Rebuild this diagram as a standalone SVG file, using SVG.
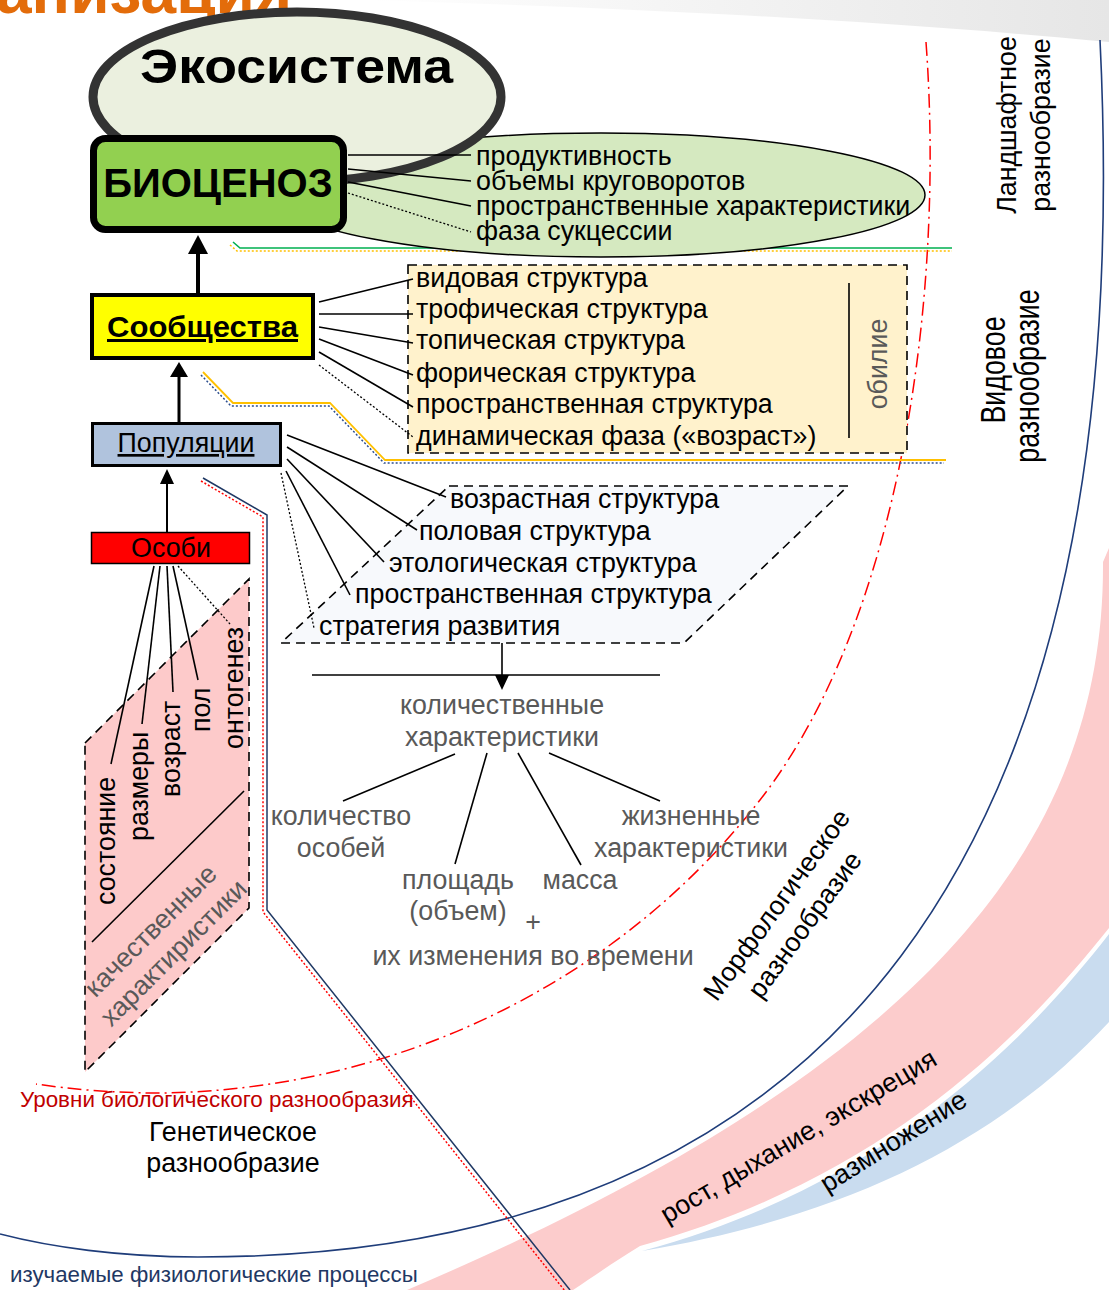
<svg xmlns="http://www.w3.org/2000/svg" width="1109" height="1290" viewBox="0 0 1109 1290">
<defs>
<style>
text{font-family:"Liberation Sans",Arial,sans-serif;}
.t{font-size:26.8px;fill:#000}
.g{font-size:26.8px;fill:#595959}
.ln{stroke:#000;stroke-width:1.6;fill:none}
.dot{stroke:#000;stroke-width:1.3;stroke-dasharray:2,2;fill:none}
.dash{stroke:#000;stroke-width:1.6;stroke-dasharray:9,6}
.mid{text-anchor:middle}
</style>
<linearGradient id="sw" x1="0" y1="0" x2="1" y2="0">
<stop offset="0" stop-color="#ffffff"/>
<stop offset="1" stop-color="#e6e6e6"/>
</linearGradient>
<marker id="ahBig" markerUnits="userSpaceOnUse" markerWidth="20" markerHeight="20" refX="0" refY="10" orient="auto"><path d="M0,0 L19,10 L0,20 Z" fill="#000"/></marker>
<marker id="ahMed" markerUnits="userSpaceOnUse" markerWidth="16" markerHeight="18" refX="0" refY="9" orient="auto"><path d="M0,0 L15,9 L0,18 Z" fill="#000"/></marker>
<marker id="ahSm" markerUnits="userSpaceOnUse" markerWidth="16" markerHeight="14" refX="0" refY="7" orient="auto"><path d="M0,0 L15,7 L0,14 Z" fill="#000"/></marker>
</defs>
<rect width="1109" height="1290" fill="#fff"/>
<path d="M360,0 L1109,0 L1109,42 C900,22 650,8 360,0 Z" fill="url(#sw)"/>
<text x="-4" y="13" font-size="64" font-weight="bold" fill="#e36c0a">анизация</text>

<g id="background-levels">
<path d="M1109,548 L1103,562 C1105,860 900,1080 407,1290 L573,1290 C600,1272 620,1258 640,1246 C880,1180 1020,1040 1109,928 Z" fill="#fccccc"/>
<path d="M1109,934 C1022,1046 882,1186 642,1251 C850,1216 1000,1140 1109,1022 Z" fill="#c9dcef"/>
<path d="M1100,40 C1140,860 830,1257 198,1257 C120,1257 50,1247 0,1234" fill="none" stroke="#1f3d7a" stroke-width="1.6"/>
<path d="M926,42 C945,300 900,620 760,800 C620,980 400,1090 160,1093 C110,1093 70,1089 36,1084" fill="none" stroke="#ff0000" stroke-width="1.5" stroke-dasharray="14,5,2,5"/>
<text transform="translate(1016,125) rotate(-90)" class="t mid">Ландшафтное</text>
<text transform="translate(1050,125) rotate(-90)" class="t mid">разнообразие</text>
<text transform="translate(1005,370) rotate(-90) scale(1,1.3)" class="t mid">Видовое</text>
<text transform="translate(1039,376) rotate(-90) scale(1,1.3)" class="t mid">разнообразие</text>
<text transform="translate(784,910) rotate(-54)" class="t mid">Морфологическое</text>
<text transform="translate(812,930) rotate(-54)" class="t mid">разнообразие</text>
<text transform="translate(803,1144) rotate(-30.5)" class="t mid">рост, дыхание, экскреция</text>
<text transform="translate(898,1149) rotate(-32)" class="t mid">размножение</text>
<text x="20" y="1107" font-size="22.4" fill="#c00000">Уровни биологического разнообразия</text>
<text x="233" y="1141" class="t mid" font-size="26.2">Генетическое</text>
<text x="233" y="1172" class="t mid" font-size="26.2">разнообразие</text>
<text x="10" y="1282" font-size="22.3" fill="#1f3864">изучаемые физиологические процессы</text>
</g>

<g id="boundaries">
<path d="M233,242 L240,248 L952,248" fill="none" stroke="#00b050" stroke-width="1.6"/>
<path d="M230,245 L237,251 L952,251" fill="none" stroke="#ffc000" stroke-width="1.5" stroke-dasharray="2,2"/>
<path d="M203,372 L233,403 L330,403 L385,460 L946,460" fill="none" stroke="#ffc000" stroke-width="1.8"/>
<path d="M201,375 L231,406 L329,406 L384,463 L944,463" fill="none" stroke="#2e4f8f" stroke-width="1.5" stroke-dasharray="2,2"/>
<path d="M203,478 L267,515 L267,910 L570,1290" fill="none" stroke="#1f3864" stroke-width="1.5"/>
<path d="M201,481 L263,517 L263,912 L565,1291" fill="none" stroke="#ff0000" stroke-width="1.5" stroke-dasharray="2,2"/>
</g>

<g id="biocenosis-properties">
<ellipse cx="601" cy="195" rx="324" ry="62" fill="#d5e9c0" stroke="#000" stroke-width="1.5"/>
<text x="476" y="165" class="t">продуктивность</text>
<text x="476" y="190" class="t">объемы круговоротов</text>
<text x="476" y="215" class="t">пространственные характеристики</text>
<text x="476" y="240" class="t">фаза сукцессии</text>
</g>

<g id="ecosystem">
<ellipse cx="297" cy="97" rx="204" ry="85" fill="#ebf0df" stroke="#333" stroke-width="9"/>
<text x="140" y="83" font-size="48" font-weight="bold" fill="#000" textLength="313" lengthAdjust="spacingAndGlyphs">Экосистема</text>
</g>

<g id="community-structures">
<rect x="408" y="265" width="499" height="188" fill="#fff2cc" class="dash"/>
<text x="416" y="287" class="t">видовая структура</text>
<text x="416" y="318" class="t">трофическая структура</text>
<text x="416" y="349" class="t">топическая структура</text>
<text x="416" y="382" class="t">форическая структура</text>
<text x="416" y="413" class="t">пространственная структура</text>
<text x="416" y="445" class="t">динамическая фаза («возраст»)</text>
<line x1="849" y1="283" x2="849" y2="438" class="ln"/>
<text transform="translate(887,364) rotate(-90)" class="g mid">обилие</text>
</g>

<g id="population-structures">
<polygon points="449,486 848,486 684,643 281,643" fill="#f7f9fc" class="dash"/>
<text x="450" y="508" class="t">возрастная структура</text>
<text x="419" y="540" class="t">половая структура</text>
<text x="389" y="572" class="t">этологическая структура</text>
<text x="355" y="603" class="t">пространственная структура</text>
<text x="319" y="635" class="t">стратегия развития</text>
</g>

<g id="individual-features">
<polygon points="85,743 249,579 249,908 85,1072" fill="#fdcaca" class="dash"/>
<line x1="92" y1="942" x2="244" y2="791" class="ln"/>
<text transform="translate(115,905) rotate(-90)" class="t">состояние</text>
<text transform="translate(148,841) rotate(-90)" class="t">размеры</text>
<text transform="translate(180,797) rotate(-90)" class="t">возраст</text>
<text transform="translate(210,732) rotate(-90)" class="t">пол</text>
<text transform="translate(243,749) rotate(-90)" class="t">онтогенез</text>
<text transform="translate(157,937) rotate(-45)" class="g mid">качественные</text>
<text transform="translate(180,959) rotate(-45)" class="g mid">характиристики</text>
</g>

<g id="quantitative">
<text x="502" y="714" class="g mid">количественные</text>
<text x="502" y="746" class="g mid">характеристики</text>
<text x="341" y="825" class="g mid">количество</text>
<text x="341" y="857" class="g mid">особей</text>
<text x="458" y="889" class="g mid">площадь</text>
<text x="458" y="920" class="g mid">(объем)</text>
<text x="580" y="889" class="g mid">масса</text>
<text x="691" y="825" class="g mid">жизненные</text>
<text x="691" y="857" class="g mid">характеристики</text>
<text x="533" y="931" class="g mid">+</text>
<text x="533" y="965" class="g mid">их изменения во времени</text>
</g>

<g id="connectors">
<line x1="348" y1="155" x2="471" y2="155" class="ln"/>
<line x1="348" y1="169" x2="471" y2="181" class="ln"/>
<line x1="348" y1="182" x2="471" y2="206" class="ln"/>
<line x1="348" y1="193" x2="471" y2="232" class="dot"/>
<line x1="319" y1="302" x2="413" y2="279" class="ln"/>
<line x1="319" y1="314" x2="413" y2="314" class="ln"/>
<line x1="319" y1="327" x2="413" y2="343" class="ln"/>
<line x1="319" y1="339" x2="413" y2="375" class="ln"/>
<line x1="319" y1="352" x2="413" y2="407" class="ln"/>
<line x1="319" y1="365" x2="413" y2="437" class="dot"/>
<line x1="287" y1="435" x2="446" y2="497" class="ln"/>
<line x1="287" y1="447" x2="417" y2="530" class="ln"/>
<line x1="287" y1="459" x2="384" y2="562" class="ln"/>
<line x1="286" y1="471" x2="350" y2="595" class="ln"/>
<line x1="281" y1="473" x2="314" y2="628" class="dot"/>
<line x1="154" y1="566" x2="111" y2="764" class="ln"/>
<line x1="160" y1="566" x2="142" y2="724" class="ln"/>
<line x1="167" y1="566" x2="173" y2="692" class="ln"/>
<line x1="173" y1="566" x2="198" y2="680" class="ln"/>
<line x1="178" y1="566" x2="230" y2="624" class="dot"/>
<line x1="312" y1="675" x2="660" y2="675" class="ln"/>
<line x1="502" y1="643" x2="502" y2="675" class="ln" marker-end="url(#ahSm)"/>
<line x1="455" y1="754" x2="343" y2="801" class="ln"/>
<line x1="487" y1="753" x2="455" y2="864" class="ln"/>
<line x1="518" y1="753" x2="581" y2="865" class="ln"/>
<line x1="549" y1="753" x2="660" y2="801" class="ln"/>
<line x1="198" y1="294" x2="198" y2="254" stroke="#000" stroke-width="4" marker-end="url(#ahBig)"/>
<line x1="179" y1="423" x2="179" y2="377" stroke="#000" stroke-width="3" marker-end="url(#ahMed)"/>
<line x1="167" y1="533" x2="167" y2="484" stroke="#000" stroke-width="2" marker-end="url(#ahSm)"/>
</g>

<g id="biocenosis">
<rect x="93.5" y="138.5" width="250" height="91" rx="12" fill="#92d050" stroke="#000" stroke-width="7"/>
<text x="218" y="197" class="mid" font-size="40" font-weight="bold" fill="#000">БИОЦЕНОЗ</text>
</g>

<g id="communities">
<rect x="92" y="295" width="221" height="63" fill="#ffff00" stroke="#000" stroke-width="4"/>
<text x="107" y="337" font-size="30" font-weight="bold" fill="#000" text-decoration="underline" textLength="191" lengthAdjust="spacingAndGlyphs">Сообщества</text>
</g>

<g id="populations">
<rect x="92.5" y="423.5" width="188" height="42" fill="#b0c3dd" stroke="#000" stroke-width="3"/>
<text x="186" y="452" class="t mid" text-decoration="underline">Популяции</text>
</g>

<g id="individuals">
<rect x="91.5" y="532.5" width="158" height="31" fill="#ff0000" stroke="#000" stroke-width="1.5"/>
<text x="171" y="557" class="t mid">Особи</text>
</g>
</svg>
